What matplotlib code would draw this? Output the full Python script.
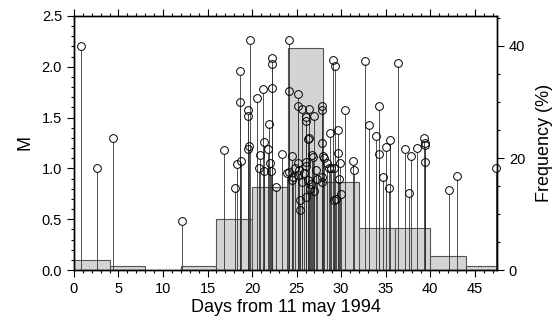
import numpy as np
import matplotlib
matplotlib.use("Agg")
from matplotlib import pyplot as plt
from matplotlib.ticker import MultipleLocator

plt.rcParams['font.family'] = ['Liberation Sans', 'DejaVu Sans']

# events: day since 11 May 1994 and magnitude
days = [0.8, 2.6, 4.4, 12.1, 16.9, 18.1, 18.3, 18.7, 18.7, 18.8,
        19.5, 19.5, 19.5, 19.7, 19.8, 20.6, 20.8, 20.9, 21.2, 21.3,
        21.3, 21.8, 21.9, 22.0, 22.1, 22.2, 22.2, 22.2, 22.7, 23.4,
        23.9, 24.1, 24.2, 24.2, 24.5, 24.5, 24.6, 24.8, 25.2, 25.2,
        25.2, 25.2, 25.3, 25.4, 25.4, 25.6, 25.6, 25.8, 26.0, 26.0,
        26.0, 26.1, 26.1, 26.3, 26.3, 26.4, 26.4, 26.5, 26.6, 26.7,
        26.8, 26.9, 27.0, 27.2, 27.3, 27.8, 27.8, 27.8, 27.8, 27.9,
        28.0, 28.1, 28.4, 28.6, 28.7, 28.9, 29.1, 29.2, 29.2, 29.3,
        29.4, 29.7, 29.7, 29.8, 29.9, 30.0, 30.4, 31.3, 31.5, 32.7,
        33.1, 33.9, 34.2, 34.2, 34.7, 35.0, 35.4, 35.5, 36.4, 37.2,
        37.6, 37.9, 38.5, 39.3, 39.4, 39.4, 39.4, 42.1, 43.0, 47.4]
mags = [2.20, 1.00, 1.30, 0.48, 1.18, 0.81, 1.04, 1.96, 1.65, 1.07,
        1.57, 1.52, 1.19, 1.22, 2.26, 1.69, 1.00, 1.13, 1.78, 1.26,
        0.97, 1.19, 1.44, 1.05, 0.97, 2.09, 2.03, 1.79, 0.82, 1.14,
        0.95, 0.96, 2.26, 1.76, 1.12, 0.89, 0.92, 1.00, 1.73, 1.61,
        1.05, 0.94, 0.98, 0.69, 0.59, 1.58, 0.87, 0.95, 1.51, 1.47,
        1.02, 1.06, 0.72, 1.29, 0.89, 1.58, 1.30, 0.80, 0.85, 1.13,
        1.11, 1.52, 0.78, 0.98, 0.90, 1.61, 1.57, 1.25, 0.92, 0.87,
        1.12, 1.10, 1.05, 1.00, 1.35, 1.00, 2.07, 1.00, 0.69, 2.01,
        0.70, 1.38, 1.15, 0.90, 1.05, 0.75, 1.57, 1.07, 0.98, 2.06,
        1.43, 1.32, 1.61, 1.14, 0.92, 1.21, 0.81, 1.28, 2.04, 1.19,
        0.76, 1.12, 1.20, 1.30, 1.25, 1.23, 1.06, 0.79, 0.93, 1.00]

# 4-day histogram, frequency in percent
bin_edges = [0, 4, 8, 12, 16, 20, 24, 28, 32, 36, 40, 44, 48]
freq = [1.8, 0.8, 0.0, 0.8, 9.1, 14.8, 39.6, 15.7, 7.5, 7.5, 2.5, 0.8]

fig = plt.figure(figsize=(5.6, 3.25), dpi=100)
ax = fig.add_axes([0.132, 0.169, 0.7555, 0.782])
ax2 = ax.twinx()

# histogram behind the stems
ax2.bar(bin_edges[:-1], freq, width=4, align='edge', color='#d4d4d4',
        edgecolor='#555555', linewidth=0.8)
ax2.set_ylim(0, 45.36)
ax2.yaxis.set_major_locator(MultipleLocator(20))
ax2.yaxis.set_minor_locator(MultipleLocator(5))
ax2.set_ylabel("Frequency (%)", fontsize=13, labelpad=8)

ax.set_zorder(ax2.get_zorder() + 1)
ax.patch.set_visible(False)

d = np.array(days)
m = np.array(mags)
ax.vlines(d, 0, m - 0.037, color='#333333', linewidth=0.6)
ax.plot(d, m, 'o', markersize=5.6, markerfacecolor='none',
        markeredgecolor='black', markeredgewidth=0.7, clip_on=False)

ax.set_xlim(0, 47.5)
ax.set_ylim(0, 2.5)
ax.xaxis.set_major_locator(MultipleLocator(5))
ax.xaxis.set_minor_locator(MultipleLocator(1))
ax.yaxis.set_major_locator(MultipleLocator(0.5))
ax.yaxis.set_minor_locator(MultipleLocator(0.1))
ax.yaxis.set_major_formatter(plt.FormatStrFormatter('%.1f'))
ax.set_xlabel("Days from 11 may 1994", fontsize=13, labelpad=2)
ax.set_ylabel("M", fontsize=13, labelpad=6)

ax.tick_params(which='both', direction='out', top=True, labelsize=10.5, width=0.8)
ax.tick_params(which='major', length=5)
ax.tick_params(which='minor', length=2.5)
ax2.tick_params(which='both', direction='out', labelsize=10.5, width=0.8)
ax2.tick_params(which='major', length=5)
ax2.tick_params(which='minor', length=2.5)
for a in (ax, ax2):
    for s in a.spines.values():
        s.set_linewidth(1.0)

fig.savefig("out.png", dpi=100)
